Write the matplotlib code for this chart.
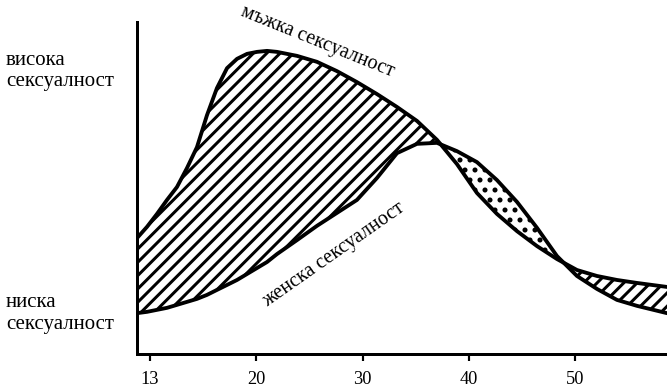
import matplotlib
matplotlib.use("Agg")
from matplotlib import pyplot as plt
import numpy as np

# Age axis (tick at 10 is labelled "13" on the original drawing)
age = [8.78, 9.72, 10.66, 11.60, 12.54, 13.48, 14.42, 15.36, 16.30, 17.25,
       18.19, 19.13, 20.07, 21.01, 21.95, 23.83, 25.71, 27.59, 29.47, 31.35,
       33.24, 35.12, 37.00, 38.88, 40.76, 42.64, 44.53, 46.41, 48.29, 50.17,
       52.05, 53.93, 55.82, 58.64]

# Male sexuality curve (arbitrary 0-100 scale)
male = [34.9, 38.3, 42.2, 46.4, 50.3, 56.0, 62.3, 71.9, 80.1, 86.1,
        88.9, 90.4, 91.0, 91.3, 91.0, 89.8, 88.0, 85.2, 81.9, 78.3,
        74.4, 70.2, 64.5, 57.2, 48.5, 42.2, 37.0, 32.5, 28.6, 25.3,
        23.5, 22.3, 21.4, 20.2]

# Female sexuality curve
female = [12.3, 12.7, 13.3, 13.9, 14.8, 15.7, 16.6, 17.8, 19.3, 20.8,
          22.3, 24.1, 25.9, 27.7, 30.1, 34.3, 38.6, 42.5, 46.4, 53.0,
          60.5, 63.3, 63.6, 61.1, 57.8, 52.4, 45.8, 38.0, 29.5, 23.5,
          19.6, 16.3, 14.5, 12.3]

xticks = [10, 20, 30, 40, 50]
xticklabels = ["13", "20", "30", "40", "50"]
yticks = [86.4, 13.3]
yticklabels = ["висока\nсексуалност", "ниска\nсексуалност"]

plt.rcParams['font.family'] = ['Liberation Serif', 'DejaVu Serif']
plt.rcParams['hatch.linewidth'] = 1.8

fig = plt.figure(figsize=(667 / 120, 390 / 120), dpi=120)
ax = fig.add_axes([137 / 667, 1 - 354 / 390, 530 / 667, 332 / 390])

x = np.array(age)
m = np.array(male)
f = np.array(female)

# male above female -> diagonal hatch, female above male -> dots
ax.fill_between(x, f, m, where=m >= f, interpolate=True,
                facecolor='none', edgecolor='black', linewidth=0, hatch='///')
ax.fill_between(x, m, f, where=f >= m, interpolate=True,
                facecolor='none', edgecolor='black', linewidth=0, hatch='..')

ax.plot(x, m, color='black', lw=2.3, solid_capstyle='round', solid_joinstyle='round')
ax.plot(x, f, color='black', lw=2.3, solid_capstyle='round', solid_joinstyle='round')

ax.text(25.71, 94.0, "мъжка сексуалност", rotation=-22, rotation_mode='anchor',
        ha='center', va='center', fontsize=12)
ax.text(27.30, 29.8, "женска сексуалност", rotation=35, rotation_mode='anchor',
        ha='center', va='center', fontsize=12)

ax.set_xlim(8.78, 58.64)
ax.set_ylim(0, 100)
ax.set_xticks(xticks)
ax.set_xticklabels(xticklabels, fontsize=11)
ax.set_yticks(yticks)
ax.set_yticklabels(yticklabels, fontsize=12.5)
for lab in ax.get_yticklabels():
    lab.set_multialignment('left')

ax.tick_params(axis='x', direction='out', length=4, width=1.3, pad=6)
ax.tick_params(axis='y', length=0, pad=14)

for side in ['top', 'right']:
    ax.spines[side].set_visible(False)
for side in ['left', 'bottom']:
    ax.spines[side].set_linewidth(1.8)

fig.savefig("out.png", dpi=120)
